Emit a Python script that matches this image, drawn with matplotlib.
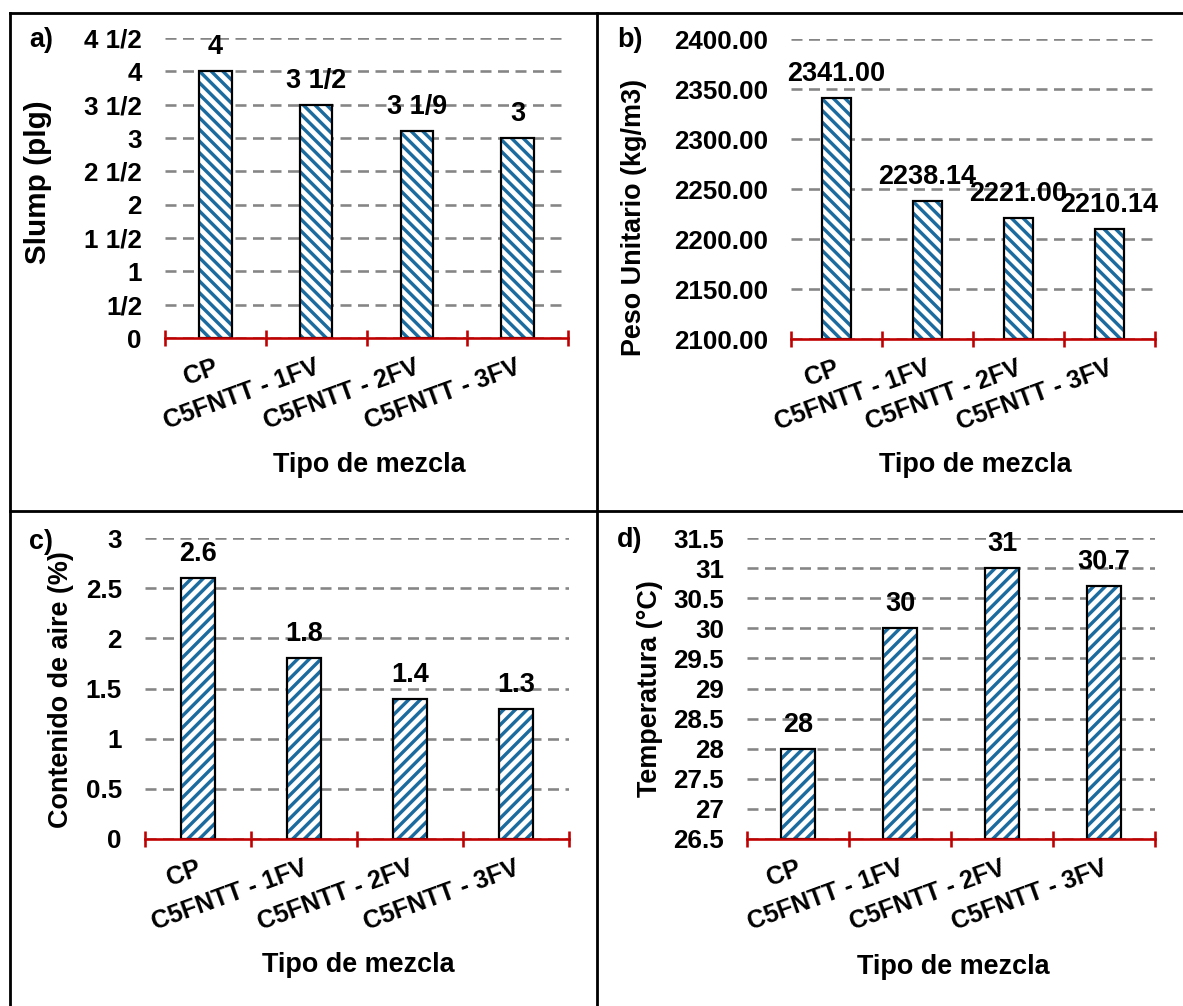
import matplotlib
matplotlib.use("Agg")
import matplotlib.pyplot as plt
from matplotlib.lines import Line2D
import matplotlib.transforms as mtransforms

W, H = 1183, 1006
DPI = 140
PX = 72.0 / DPI  # points per pixel

plt.rcParams['font.family'] = ['Liberation Sans', 'DejaVu Sans']
plt.rcParams['font.weight'] = 'bold'
plt.rcParams['hatch.linewidth'] = 3.4 * PX

# ---------------- data ----------------
categories = ["CP", "C5FNTT - 1FV", "C5FNTT - 2FV", "C5FNTT - 3FV"]

slump_values = [4.0, 3.5, 3 + 1 / 9, 3.0]
slump_labels = ["4", "3 1/2", "3 1/9", "3"]
slump_ticks = [0, 0.5, 1, 1.5, 2, 2.5, 3, 3.5, 4, 4.5]
slump_ticklabels = ["0", "1/2", "1", "1 1/2", "2", "2 1/2", "3", "3 1/2", "4", "4 1/2"]

peso_values = [2341.00, 2238.14, 2221.00, 2210.14]
peso_labels = ["2341.00", "2238.14", "2221.00", "2210.14"]
peso_ticks = [2100, 2150, 2200, 2250, 2300, 2350, 2400]
peso_ticklabels = ["2100.00", "2150.00", "2200.00", "2250.00", "2300.00", "2350.00", "2400.00"]

aire_values = [2.6, 1.8, 1.4, 1.3]
aire_labels = ["2.6", "1.8", "1.4", "1.3"]
aire_ticks = [0, 0.5, 1, 1.5, 2, 2.5, 3]
aire_ticklabels = ["0", "0.5", "1", "1.5", "2", "2.5", "3"]

temp_values = [28, 30, 31, 30.7]
temp_labels = ["28", "30", "31", "30.7"]
temp_ticks = [26.5, 27, 27.5, 28, 28.5, 29, 29.5, 30, 30.5, 31, 31.5]
temp_ticklabels = ["26.5", "27", "27.5", "28", "28.5", "29", "29.5", "30", "30.5", "31", "31.5"]

# ---------------- style ----------------
BLUE = "#1B6B9E"
RED = "#C00000"
GRID = "#858585"
FS_TICK = 26 * PX
FS_DATA = 27 * PX
FS_CAT = 25 * PX
FS_TITLE = 27 * PX

fig = plt.figure(figsize=(W / DPI, H / DPI), dpi=DPI)
fig.patch.set_facecolor("white")


def add_ax(l, r, t, b):
    return fig.add_axes([l / W, 1 - b / H, (r - l) / W, (b - t) / H])


def fig_text(x, y, s, **kw):
    fig.text(x / W, 1 - y / H, s, **kw)


def panel(ax, values, labels, ticks, ticklabels, hatch):
    lo, hi = ticks[0], ticks[-1]
    x = list(range(len(categories)))
    ax.set_xlim(-0.5, len(categories) - 0.5)
    ax.set_ylim(lo, hi)
    heights = [v - lo for v in values]
    ax.bar(x, heights, bottom=lo, width=0.325, color="white", edgecolor=BLUE,
           hatch=hatch, linewidth=0, zorder=3)
    ax.bar(x, heights, bottom=lo, width=0.325, fill=False, edgecolor="black",
           linewidth=2.2 * PX, zorder=4)
    for xi, v, s in zip(x, values, labels):
        ax.annotate(s, (xi, v), xytext=(0, 11 * PX), textcoords="offset points",
                    ha="center", va="bottom", fontsize=FS_DATA, fontweight="bold",
                    zorder=6, annotation_clip=False)
    ax.set_yticks(ticks)
    ax.set_yticklabels(ticklabels)
    ax.tick_params(axis="y", length=0, pad=23 * PX, labelsize=FS_TICK)
    lw_g = 2.6 * PX
    ax.yaxis.grid(True, color=GRID, linewidth=lw_g,
                  linestyle=(0, (11 * PX / lw_g, 6.5 * PX / lw_g)), zorder=1)
    ax.set_axisbelow(True)
    for sp in ("left", "right", "top"):
        ax.spines[sp].set_visible(False)
    ax.spines["bottom"].set_color(RED)
    ax.spines["bottom"].set_linewidth(2.6 * PX)
    ax.spines["bottom"].set_zorder(5)
    bounds = [i - 0.5 for i in range(len(categories) + 1)]
    ax.set_xticks(bounds)
    ax.tick_params(axis="x", direction="inout", length=17 * PX, width=2.6 * PX,
                   color=RED, labelbottom=False)
    # category labels, rotated, right end at category center
    off = mtransforms.ScaledTranslation(-2 / DPI, -17 / DPI, fig.dpi_scale_trans)
    trans = mtransforms.blended_transform_factory(ax.transData, ax.transAxes) + off
    for xi, c in zip(x, categories):
        ax.text(xi, 0, c, transform=trans, rotation=20, rotation_mode="anchor",
                ha="right", va="top", fontsize=FS_CAT, fontweight="bold", clip_on=False)


ax_a = add_ax(165, 568, 38, 338)
panel(ax_a, slump_values, slump_labels, slump_ticks, slump_ticklabels, "\\\\\\\\")
ax_b = add_ax(791, 1155, 39, 339)
panel(ax_b, peso_values, peso_labels, peso_ticks, peso_ticklabels, "\\\\\\\\")
ax_c = add_ax(145, 569, 538, 839)
panel(ax_c, aire_values, aire_labels, aire_ticks, aire_ticklabels, "////")
ax_d = add_ax(747, 1155, 538, 839)
panel(ax_d, temp_values, temp_labels, temp_ticks, temp_ticklabels, "////")

# axis titles
fig_text(38, 182, "Slump (plg)", rotation=90, ha="center", va="center", fontsize=FS_TITLE * 1.1)
fig_text(634, 217, "Peso Unitario (kg/m3)", rotation=90, ha="center", va="center", fontsize=FS_TITLE)
fig_text(61, 690, "Contenido de aire (%)", rotation=90, ha="center", va="center", fontsize=FS_TITLE)
fig_text(650, 689, "Temperatura (°C)", rotation=90, ha="center", va="center", fontsize=FS_TITLE)

fig_text(369, 465, "Tipo de mezcla", ha="center", va="center", fontsize=FS_TITLE)
fig_text(975, 465, "Tipo de mezcla", ha="center", va="center", fontsize=FS_TITLE)
fig_text(358, 965, "Tipo de mezcla", ha="center", va="center", fontsize=FS_TITLE)
fig_text(953, 967, "Tipo de mezcla", ha="center", va="center", fontsize=FS_TITLE)

# panel letters
fig_text(41, 40, "a)", ha="center", va="center", fontsize=FS_TITLE)
fig_text(630, 40, "b)", ha="center", va="center", fontsize=FS_TITLE)
fig_text(41, 542, "c)", ha="center", va="center", fontsize=FS_TITLE)
fig_text(630, 540, "d)", ha="center", va="center", fontsize=FS_TITLE)

# frame lines
lw_frame = 2.8 * PX
def fline(x0, y0, x1, y1):
    fig.add_artist(Line2D([x0 / W, x1 / W], [1 - y0 / H, 1 - y1 / H],
                          transform=fig.transFigure, color="black",
                          linewidth=lw_frame, solid_capstyle="projecting"))

fline(9.5, 12.5, W, 12.5)
fline(9.5, 12.5, 9.5, H)
fline(597, 12.5, 597, H)
fline(9.5, 511, W, 511)

fig.savefig("out.png", dpi=DPI, facecolor="white")
